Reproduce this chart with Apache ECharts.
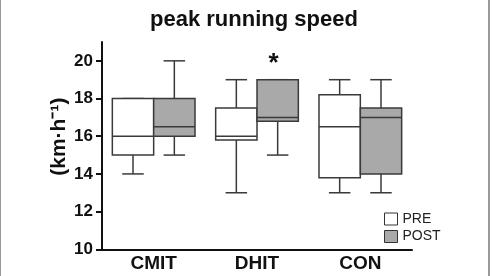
<!DOCTYPE html>
<html><head><meta charset="utf-8">
<script src="https://cdn.jsdelivr.net/npm/echarts@6/dist/echarts.min.js"></script>
<style>html,body{margin:0;padding:0;background:#fff;}#c{width:493px;height:276px;}</style>
</head><body>
<div id="c"></div>
<script>
const categories = ['CMIT', 'DHIT', 'CON'];
// each row: [min, Q1, median, Q3, max]
const preValues = [[14, 15, 16, 18, 18], [13, 15.8, 16, 17.5, 19], [13, 13.8, 16.5, 18.2, 19]];
const postValues = [[15, 16, 16.5, 18, 20], [15, 16.8, 17, 19, 19], [13, 14, 17, 17.5, 19]];
const postMarks = ['', '*', ''];
const preMarks = ['', '', ''];
const yTicks = [10, 12, 14, 16, 18, 20];

const FONT = 'Liberation Sans, Arial, sans-serif';
const LINE = '#3a3a3a';

function makeRender(side, fill, marks) {
  return function (params, api) {
    const ci = api.value(0);
    const v = [1, 2, 3, 4, 5].map(i => api.value(i));
    const band = api.size([1, 0])[0];
    const cx = api.coord([ci, v[0]])[0] + side * band * 0.2;
    const w = band * 0.4;
    const cap = w * 0.52;
    const y = v.map(val => api.coord([ci, val])[1]);
    const ls = { stroke: LINE, lineWidth: 1.5 };
    const children = [
      { type: 'line', shape: { x1: cx, y1: y[0], x2: cx, y2: y[1] }, style: ls },
      { type: 'line', shape: { x1: cx, y1: y[3], x2: cx, y2: y[4] }, style: ls },
      { type: 'line', shape: { x1: cx - cap / 2, y1: y[0], x2: cx + cap / 2, y2: y[0] }, style: ls },
      { type: 'line', shape: { x1: cx - cap / 2, y1: y[4], x2: cx + cap / 2, y2: y[4] }, style: ls },
      { type: 'rect', shape: { x: cx - w / 2, y: y[3], width: w, height: y[1] - y[3] }, style: { fill: fill, stroke: LINE, lineWidth: 1.5 } },
      { type: 'line', shape: { x1: cx - w / 2, y1: y[2], x2: cx + w / 2, y2: y[2] }, style: ls }
    ];
    const m = marks[params.dataIndex];
    if (m) {
      children.push({ type: 'text', style: { text: m, x: cx - 4, y: y[4] - 16, align: 'center', verticalAlign: 'middle', font: 'bold 26px ' + FONT, fill: '#111' } });
    }
    return { type: 'group', children: children };
  };
}

const chart = echarts.init(document.getElementById('c'), null, { renderer: 'canvas' });
chart.setOption({
  backgroundColor: '#fff',
  animation: false,
  title: {
    text: 'peak running speed', left: 150, top: 9, padding: 0,
    textStyle: { fontFamily: FONT, fontWeight: 'bold', fontSize: 22, color: '#111' }
  },
  legend: {
    orient: 'vertical', left: 384, top: 212, padding: 0, itemWidth: 13, itemHeight: 12, itemGap: 3.5,
    icon: 'rect',
    textStyle: { fontFamily: FONT, fontSize: 14, color: '#222' },
    data: [
      { name: 'PRE', itemStyle: { color: '#ffffff', borderColor: '#333', borderWidth: 1 } },
      { name: 'POST', itemStyle: { color: '#a9a9a9', borderColor: '#333', borderWidth: 1 } }
    ]
  },
  grid: { left: 102, right: 81, top: 42, bottom: 26.7 },
  xAxis: {
    type: 'category', data: categories,
    axisLine: { lineStyle: { color: '#111', width: 2 } },
    axisTick: { show: false },
    axisLabel: { margin: 5, fontFamily: FONT, fontWeight: 'bold', fontSize: 19, color: '#111' }
  },
  yAxis: {
    type: 'value', min: 10, max: 21,
    name: '(km·h⁻¹)', nameLocation: 'middle', nameGap: 32, nameRotate: 90, nameMoveOverlap: false,
    nameTextStyle: { fontFamily: FONT, fontWeight: 'bold', fontSize: 21, color: '#111', padding: [0, 0, 0, 18] },
    splitLine: { show: false },
    axisLine: { show: true, lineStyle: { color: '#111', width: 2 } },
    axisTick: { show: true, length: 6, customValues: yTicks, lineStyle: { color: '#111', width: 2 } },
    axisLabel: { margin: 9, customValues: yTicks, fontFamily: FONT, fontWeight: 'bold', fontSize: 17, color: '#111' }
  },
  graphic: [
    { type: 'rect', left: 0, top: 0, shape: { width: 1, height: 276 }, style: { fill: '#999' } },
    { type: 'rect', left: 488, top: 0, shape: { width: 2, height: 276 }, style: { fill: '#999' } }
  ],
  series: [
    {
      name: 'PRE', type: 'custom', itemStyle: { color: '#ffffff' },
      encode: { x: 0, y: [1, 2, 3, 4, 5] },
      renderItem: makeRender(-1, '#ffffff', preMarks),
      data: categories.map((c, i) => [i].concat(preValues[i]))
    },
    {
      name: 'POST', type: 'custom', itemStyle: { color: '#a9a9a9' },
      encode: { x: 0, y: [1, 2, 3, 4, 5] },
      renderItem: makeRender(1, '#a9a9a9', postMarks),
      data: categories.map((c, i) => [i].concat(postValues[i]))
    }
  ]
});
</script>
</body></html>
